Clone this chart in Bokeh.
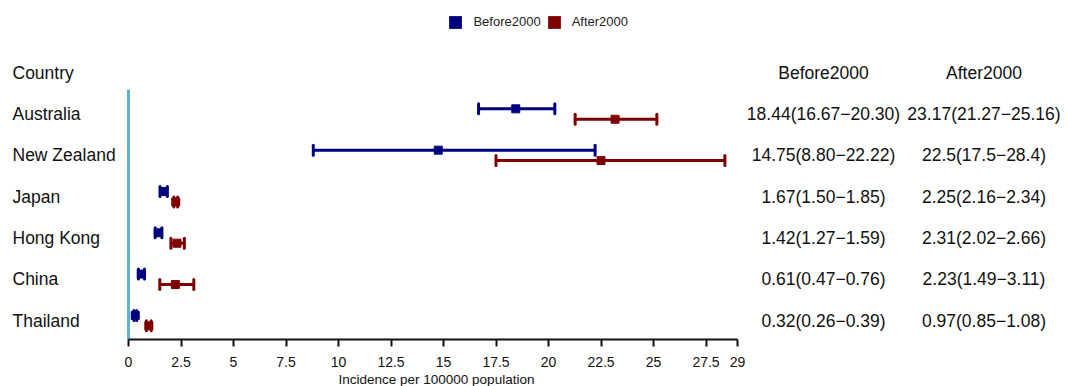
from bokeh.plotting import figure
from bokeh.models import Range1d, FixedTicker, ColumnDataSource, Legend, LegendItem, Title
from bokeh.core.properties import value
from bokeh.embed import file_html
from bokeh.resources import INLINE

# ---------------- data ----------------
countries = ["Australia", "New Zealand", "Japan", "Hong Kong", "China", "Thailand"]
before_est = [18.44, 14.75, 1.67, 1.42, 0.61, 0.32]
before_lo = [16.67, 8.80, 1.50, 1.27, 0.47, 0.26]
before_hi = [20.30, 22.22, 1.85, 1.59, 0.76, 0.39]
after_est = [23.17, 22.5, 2.25, 2.31, 2.23, 0.97]
after_lo = [21.27, 17.5, 2.16, 2.02, 1.49, 0.85]
after_hi = [25.16, 28.4, 2.34, 2.66, 3.11, 1.08]
before_text = ["18.44(16.67\u221220.30)", "14.75(8.80\u221222.22)", "1.67(1.50\u22121.85)",
               "1.42(1.27\u22121.59)", "0.61(0.47\u22120.76)", "0.32(0.26\u22120.39)"]
after_text = ["23.17(21.27\u221225.16)", "22.5(17.5\u221228.4)", "2.25(2.16\u22122.34)",
              "2.31(2.02\u22122.66)", "2.23(1.49\u22123.11)", "0.97(0.85\u22121.08)"]
series_names = ["Before2000", "After2000"]
header_label = "Country"
tick_values = [0, 2.5, 5, 7.5, 10, 12.5, 15, 17.5, 20, 22.5, 25, 27.5, 29]
tick_labels = ["0", "2.5", "5", "7.5", "10", "12.5", "15", "17.5", "20", "22.5", "25", "27.5", "29"]
x_title = "Incidence per 100000 population"

# ---------------- layout ----------------
W, H = 1067, 386
AXIS_Y = 338         # pixel of the axis line (frame bottom)
PX = 21.0            # pixels per unit on x
X0 = 128.0           # pixel of x = 0
ROW = 41.2           # pixels per row
HEAD = 72.0          # pixel (from top) of the header row
FONT = "Liberation Sans"
BLUE = "#00007F"
RED = "#7F0000"
CYAN = "#5AB4CD"
NAN = float("nan")

x_range = Range1d(-X0 / PX, (W - X0) / PX)
y_bottom = (AXIS_Y - HEAD) / ROW
y_range = Range1d(y_bottom, -HEAD / ROW)

p = figure(width=W, height=H, x_range=x_range, y_range=y_range,
           output_backend="svg", toolbar_location=None,
           y_axis_location=None, x_axis_location="below",
           min_border_left=0, min_border_right=0, min_border_top=0,
           min_border_bottom=0, outline_line_color=None,
           background_fill_color="white", border_fill_color="white")
p.grid.visible = False

ax = p.xaxis[0]
ax.ticker = FixedTicker(ticks=tick_values)
ax.major_label_overrides = {v: l for v, l in zip(tick_values, tick_labels)}
ax.bounds = (tick_values[0], tick_values[-1])
ax.axis_line_width = 2
ax.axis_line_color = "#111111"
ax.major_tick_line_width = 2
ax.major_tick_line_color = "#111111"
ax.major_tick_out = 7
ax.major_tick_in = 0
ax.minor_tick_out = 0
ax.minor_tick_in = 0
ax.major_label_standoff = 10
ax.major_label_text_font = FONT
ax.major_label_text_font_size = "14px"
ax.major_label_text_color = "#111111"

# axis title, centred under the 0-29 axis span
p.add_layout(Title(text=x_title, align="left", offset=338, standoff=0,
                   text_font=FONT, text_font_size="13.5px", text_font_style="normal",
                   text_color="#111111"), "below")

rows = [i + 1 for i in range(len(countries))]
OFF = 5.2 / ROW
CAP = 5.0 / ROW

# zero line
p.segment(x0=[0], x1=[0], y0=[(89 - HEAD) / ROW], y1=[y_bottom], line_color=CYAN, line_width=3)

def draw_series(est, lo, hi, sign, color):
    ys = [r + sign * OFF for r in rows]
    src = ColumnDataSource(dict(est=est, lo=lo, hi=hi, y=ys,
                                y0=[y - CAP for y in ys], y1=[y + CAP for y in ys]))
    p.segment(x0="lo", x1="hi", y0="y", y1="y", source=src, line_color=color, line_width=3)
    p.segment(x0="lo", x1="lo", y0="y0", y1="y1", source=src, line_color=color, line_width=3, line_cap="round")
    p.segment(x0="hi", x1="hi", y0="y0", y1="y1", source=src, line_color=color, line_width=3, line_cap="round")
    p.scatter(x="est", y="y", source=src, marker="square", size=8, fill_color=color, line_color=color)

draw_series(before_est, before_lo, before_hi, -1, BLUE)
draw_series(after_est, after_lo, after_hi, 1, RED)

# text columns
TXT = dict(text_font=value(FONT), text_font_size=value("17.5px"), text_color="#111111",
           text_baseline="middle")
COUNTRY_X = (12 - X0) / PX
BEFORE_X = (823 - X0) / PX
AFTER_X = (983.5 - X0) / PX
p.text(x=[COUNTRY_X] * (len(countries) + 1), y=[0] + rows, text=[header_label] + countries,
       text_align="left", **TXT)
p.text(x=[BEFORE_X] * (len(rows) + 1), y=[0] + rows, text=[series_names[0]] + before_text,
       text_align="center", **TXT)
p.text(x=[AFTER_X] * (len(rows) + 1), y=[0] + rows, text=[series_names[1]] + after_text,
       text_align="center", **TXT)

# legend (proxy glyphs with no visible data)
lb = p.quad(left=[NAN], right=[NAN], top=[NAN], bottom=[NAN], fill_color=BLUE, line_color=None)
la = p.quad(left=[NAN], right=[NAN], top=[NAN], bottom=[NAN], fill_color=RED, line_color=None)
legend = Legend(items=[LegendItem(label=series_names[0], renderers=[lb]),
                       LegendItem(label=series_names[1], renderers=[la])],
                orientation="horizontal", location=(447.4, AXIS_Y - 28.5),
                glyph_width=16, glyph_height=16, label_height=16, label_standoff=10,
                spacing=5, padding=0, margin=0, border_line_color=None,
                background_fill_alpha=0, label_text_font=FONT,
                label_text_font_size="13px", label_text_color="#222222")
p.add_layout(legend)

open("out.html", "w").write(file_html(p, INLINE))
